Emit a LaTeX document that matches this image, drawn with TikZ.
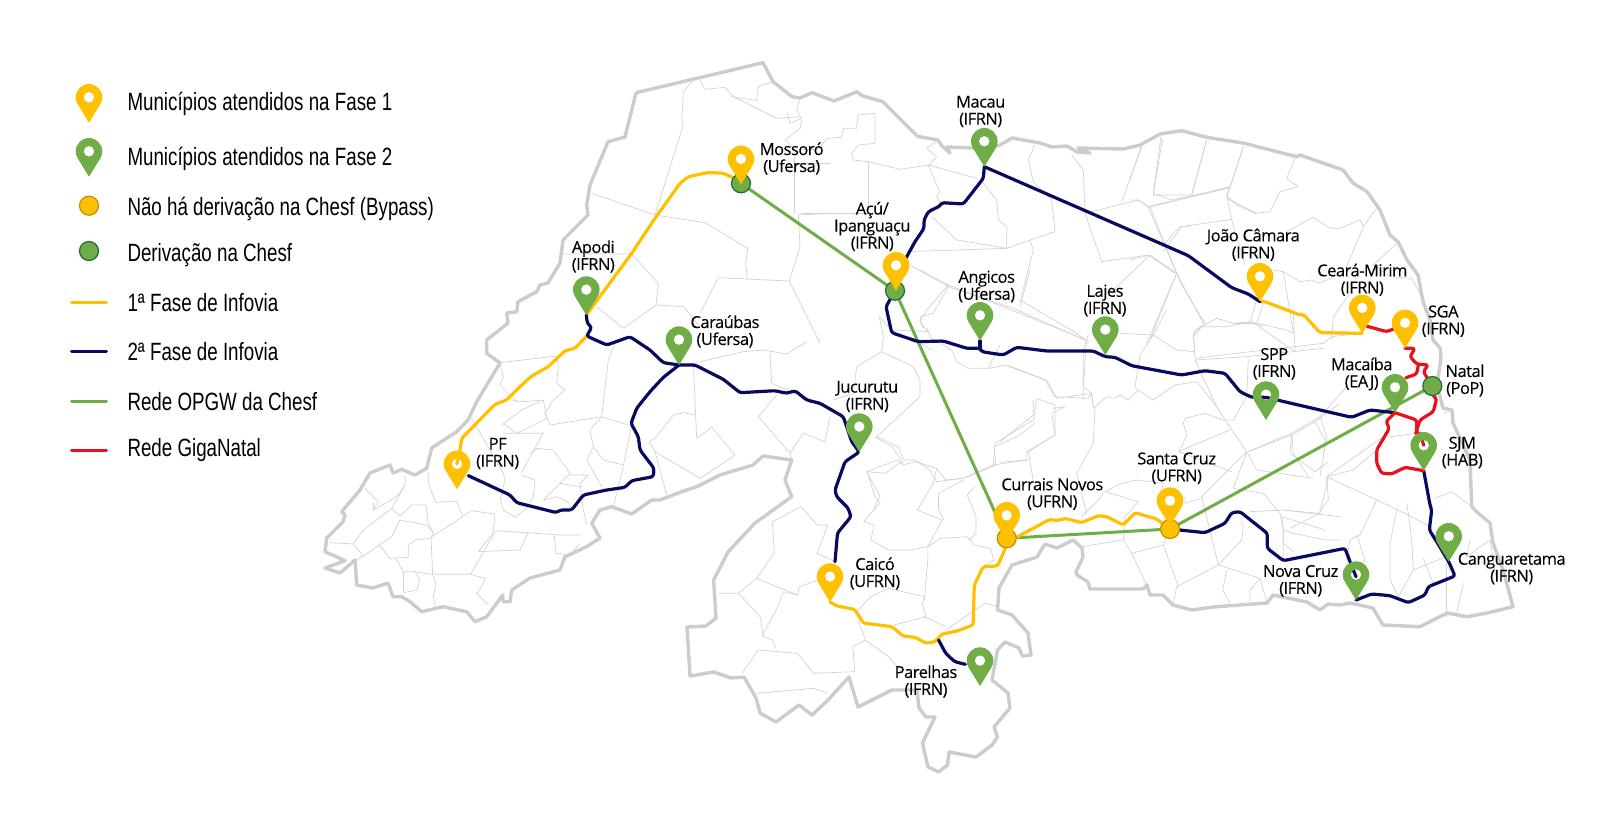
\documentclass[tikz,border=0pt]{standalone}
\usepackage{fontspec}
\setmainfont{Open Sans}
\newfontfamily\legfont[FakeStretch=0.75]{Liberation Sans}
\newfontfamily\labfont[LetterSpace=-3,FakeBold=0.2]{Open Sans}
\definecolor{fy}{HTML}{FFC000}
\definecolor{fg}{HTML}{70AD47}
\definecolor{fn}{HTML}{080A60}
\definecolor{fr}{HTML}{E8101A}
\definecolor{bd}{HTML}{CCCCCC}
\definecolor{mn}{HTML}{D2D2D2}
\definecolor{byb}{HTML}{BF9000}
\definecolor{grb}{HTML}{1E6B3A}
\tikzset{
 mun/.style={draw=mn,line width=.7pt,line join=round},
 outer/.style={draw=bd,line width=3.4pt,line join=round},
 route/.style={line width=3.2pt,line join=round,line cap=round,rounded corners=2.5pt},
 yroute/.style={route,draw=fy},
 nroute/.style={route,draw=fn},
 rroute/.style={route,draw=fr},
 groute/.style={line width=3pt,draw=fg,line cap=round},
 bypass/.style={circle,draw=byb,fill=fy,line width=1.2pt,minimum size=19pt,inner sep=0pt},
 deriv/.style={circle,draw=grb,fill=fg,line width=1.2pt,minimum size=19pt,inner sep=0pt},
 lab/.style={font=\labfont\fontsize{16.5}{17}\selectfont,align=center,inner sep=0pt,text=black,yshift=-1.5pt},
 leg/.style={font=\legfont\fontsize{25}{25}\selectfont,anchor=base west,inner sep=0pt,text=black},
}
\newenvironment{zm}[2]{\begin{scope}[shift={(#1pt,-#2pt)},x=.33333pt,y=-.33333pt]}{\end{scope}}
\newenvironment{zs}[2]{\begin{scope}[shift={(#1pt,-#2pt)},x=.35714pt,y=-.33333pt]}{\end{scope}}
\newcommand\ml[1]{\draw[mun] plot coordinates {#1};}
\newcommand\pin[2]{\begin{scope}[shift={(#1)}]
 \fill[#2,even odd rule] (0,0) -- (-11.3,-18.4) .. controls (-12.6,-20.5) and (-13.3,-22.9) .. (-13.3,-25.4)
 .. controls (-13.3,-32.75) and (-7.35,-38.7) .. (0,-38.7)
 .. controls (7.35,-38.7) and (13.3,-32.75) .. (13.3,-25.4)
 .. controls (13.3,-22.9) and (12.6,-20.5) .. (11.3,-18.4) -- cycle
 (0,-25.4) circle[radius=5.3pt];
 \end{scope}}
\begin{document}
\begin{tikzpicture}[x=1pt,y=-1pt]
\useasboundingbox (0,0) rectangle (1616,835);
% named places
\coordinate (lp1) at (89,122.7);
\coordinate (lp2) at (89,176.7);
\coordinate (mossoro) at (741,184.3);
\coordinate (apodi) at (586.3,315);
\coordinate (caraubas) at (679,365);
\coordinate (pf) at (457,489.3);
\coordinate (pfh) at (457,464);
\coordinate (macau) at (984.3,166.7);
\coordinate (acu) at (896,290.7);
\coordinate (angicos) at (980,340.7);
\coordinate (lajes) at (1105.3,355);
\coordinate (joao) at (1260,301.7);
\coordinate (ceara) at (1362.3,333.3);
\coordinate (cearaE) at (1366,326);
\coordinate (sga) at (1405,348.3);
\coordinate (sgaW) at (1396,328);
\coordinate (macaiba) at (1395,412.7);
\coordinate (spp) at (1266,420);
\coordinate (sjm) at (1423.7,470.7);
\coordinate (sjmh) at (1423.7,445.3);
\coordinate (cangua) at (1448.7,561.7);
\coordinate (novacruz) at (1356,600);
\coordinate (santacruz) at (1170,526);
\coordinate (currais) at (1006.7,540.7);
\coordinate (jucurutu) at (859.3,452);
\coordinate (caico) at (830,602);
\coordinate (parelhas) at (980,686);
\coordinate (cMos) at (741,183.3);
\coordinate (cAcu) at (895,290.7);
\coordinate (cCur) at (1006.7,538.3);
\coordinate (cSan) at (1170,529);
\coordinate (cNat) at (1432.3,386);
\coordinate (j1) at (586.7,336);
% outline
\draw[outer] plot coordinates {(636,92.7)(763,62.7)(773,81.7)(792,96.7)(800,98)(812,92.7)(834,101)(857,91.7)(862,95.7)(883,101.7)(918,136.7)(921,137)(938,140)(942,146)(950,153)(947,147)(972,148)(985,150)(1000,145)(1012,138)(1040,143)(1052,147)(1067,146)(1077,152)(1090,153)(1078,148)(1123,149)(1140,145)(1160,134)(1182,130.7)(1206.7,137.3)(1243,143)(1296.7,156.7)(1300,155)(1343,170)(1353,183)(1367,191.7)(1380,210)(1390,235)(1398,241.7)(1407,260)(1418,275)(1423,301.7)(1430,320)(1433,340)(1440,348)(1441,358)(1437,385)(1443,408)(1452,410)(1453,423)(1470,460)(1471.7,506.7)(1478,513)(1490,523)(1493,543)(1503,570)(1513,606.7)(1487,613)(1467,616.7)(1447,613)(1420,626.7)(1383,625)(1373,608)(1350,603)(1340,605)(1328,604)(1320,610)(1307,602)(1273,595)(1267,603)(1213,607)(1192,610)(1173,605)(1163,595)(1150,595)(1147,585)(1143,589)(1090,589)(1088,582)(1077,575)(1076,572)(1083,557)(1082,548)(1073,540)(1057,548)(1045,544)(1037,557)(1012,565)(999,588)(997.5,610)(1012,615)(1028,633)(1031,655)(1022.5,656)(1019,648)(1005,642)(997.5,650)(992,680)(1008,693)(1010,708)(994,727)(997.5,737)(992,745)(976,757)(949,752)(947.5,765)(938.6,772)(928,767)(922.5,743)(935,717)(926,717)(919,708)(917,690)(892,690)(858,707)(849,677)(828,700)(812,715)(799,705)(776,722)(760,713)(756,698)(744,677)(731,678)(713.6,672)(690,676)(687,627)(706,626)(716,618)(713.6,580)(728,552)(755,523)(791.7,496.7)(785,480)(791.7,460)(763,456)(753,465)(720,475)(696.7,486.7)(681.7,491.7)(660,500)(651.7,500)(631.7,514)(611.7,506.7)(600,510)(591.7,523.3)(600,538)(586.7,546.7)(565,556.7)(560,570)(530,578)(511.7,590)(510,601.7)(503,601.7)(502.7,595)(486.7,616.7)(475,621.7)(466.7,611.7)(443,606.7)(421.7,611.7)(410,601.7)(401.7,596.7)(393,596.7)(388,583)(373,588)(356.7,585)(355,560)(340,573)(325,568)(345,560.7)(325,551.7)(326.7,538)(343,521.7)(345,515)(341.7,511.7)(360,490)(370,473)(390,465)(393,473)(401.7,469.3)(415,475)(426.7,468.3)(431.7,448)(456.7,431.7)(468,420)(476.7,401.7)(500,363)(486.7,353.3)(486.7,340)(508,323)(506.7,313)(516.7,311.7)(518,301.7)(536.7,291.7)(540,285)(548,283)(560,263)(563,240)(588,215)(586.7,205)(590,185)(608,141.7)(625,137)(636,92.7)};
% municipal lines
\begin{zm}{330}{50}
\ml{(1090,90)(1060,125)(1055,210)(1060,225)(975,495)}
\ml{(785,430)(975,495)(1125,518)(1253,595)(1247,640)(1252,685)}
\ml{(1165,683)(1378,693)(1410,590)(1405,495)(1500,490)}
\ml{(1393,490)(1393,340)(1500,340)}
\ml{(1110,90)(1125,118)(1185,112)(1210,140)(1340,205)(1410,200)}
\ml{(1280,150)(1285,110)(1330,95)}
\ml{(1205,140)(1283,152)}
\ml{(1410,145)(1400,180)(1415,205)(1380,220)(1372,190)}
\ml{(1415,210)(1410,235)(1365,270)(1395,300)(1393,340)}
\ml{(700,612)(905,612)(985,700)(978,765)(880,835)(800,770)}
\ml{(978,765)(1060,770)(1110,830)}
\ml{(1165,683)(1110,790)}
\ml{(1378,693)(1470,880)}
\end{zm}
\begin{zm}{330}{340}
\ml{(510,68)(680,48)(685,80)(680,130)(705,150)(670,180)(645,220)(660,255)}
\ml{(510,70)(520,110)(510,135)(565,190)}
\ml{(660,255)(815,230)(905,258)}
\ml{(855,10)(835,60)(815,230)(780,270)(790,320)(770,360)(815,440)}
\ml{(790,320)(820,360)(880,375)}
\ml{(905,255)(875,400)(850,500)}
\ml{(1090,70)(1100,295)(1145,262)(1215,345)(1110,415)(975,335)(1010,465)}
\ml{(975,335)(958,305)(975,295)(1030,225)(1060,218)(1095,225)}
\ml{(1090,70)(1240,35)(1300,30)(1370,42)(1430,5)}
\ml{(1320,40)(1325,130)(1395,160)}
\ml{(1340,165)(1285,230)(1380,340)(1420,280)(1485,305)(1500,230)}
\ml{(1380,340)(1385,360)}
\ml{(425,235)(520,400)(525,420)(510,480)}
\ml{(545,180)(580,185)(640,180)(650,235)(560,280)(520,250)}
\ml{(515,255)(575,210)(640,180)}
\ml{(520,280)(640,280)(605,340)(575,400)}
\ml{(605,340)(620,325)(670,330)(720,400)(690,430)(640,480)}
\ml{(720,405)(775,405)(750,430)(760,510)(770,555)}
\ml{(575,405)(615,420)(610,470)(590,505)(555,532)(520,510)(510,475)}
\ml{(690,430)(750,440)}
\ml{(640,480)(680,470)(720,490)}
\end{zm}
\begin{zm}{320}{440}
\ml{(255,105)(255,135)(215,205)(240,228)(275,195)(318,195)(325,250)(340,280)(333,292)}
\ml{(325,95)(325,130)(347,187)(410,183)(428,230)(333,292)(338,403)(452,403)(525,275)}
\ml{(428,228)(455,212)(525,222)(520,275)}
\ml{(525,272)(720,285)(780,285)}
\ml{(520,278)(475,335)(600,330)(625,275)}
\ml{(703,287)(708,340)(750,345)(780,310)}
\ml{(30,308)(100,312)(130,270)(215,205)}
\ml{(100,312)(130,348)(215,290)(240,240)}
\ml{(130,348)(108,360)}
\ml{(240,240)(320,255)(340,280)}
\ml{(178,315)(210,355)(265,352)(265,315)(285,300)(333,295)}
\ml{(228,355)(250,395)(285,395)(338,403)(348,435)(340,470)(348,510)}
\ml{(250,395)(250,455)}
\ml{(285,395)(300,420)(290,450)(250,458)}
\ml{(452,403)(495,415)(485,440)(470,460)(505,495)}
\ml{(135,145)(175,185)(160,210)(205,185)(235,165)(255,135)}
\ml{(160,210)(160,190)}
\end{zm}
\begin{zm}{820}{270}
\ml{(300,0)(385,45)(320,120)(300,155)(320,180)(335,205)}
\ml{(385,45)(800,210)(790,350)(815,370)(820,410)}
\ml{(178,140)(190,200)(185,245)(110,290)(100,370)(40,390)}
\ml{(185,245)(280,290)(300,330)(300,380)(170,500)(235,530)(250,570)(285,570)(330,600)(350,635)(430,625)(520,585)(620,570)}
\ml{(178,140)(215,180)(330,185)}
\ml{(335,240)(295,215)}
\ml{(335,205)(395,240)(410,275)(445,295)(505,295)(540,225)}
\ml{(505,295)(560,285)(680,330)(710,385)(810,370)}
\ml{(600,110)(630,0)}
\ml{(650,385)(705,405)(705,495)(620,545)(620,570)}
\ml{(650,385)(640,450)(525,520)(520,585)}
\ml{(140,605)(195,610)(245,575)}
\ml{(140,605)(180,680)(160,720)}
\end{zm}
\begin{zm}{1000}{300}
\ml{(20,197)(135,240)(165,290)(265,295)(275,280)(280,325)(320,290)(345,295)(360,285)(385,300)(415,270)(460,300)(525,255)(590,245)(650,320)(695,390)(740,455)(770,510)(940,535)}
\ml{(250,300)(250,150)(265,105)}
\ml{(60,0)(230,100)(265,125)}
\ml{(360,100)(460,105)(420,165)(405,260)(410,270)}
\ml{(500,30)(460,105)(530,150)(585,155)}
\ml{(585,155)(580,110)(605,80)(650,55)(700,70)(750,65)(770,75)(885,155)}
\ml{(585,180)(740,170)(970,145)}
\ml{(585,180)(650,320)}
\ml{(770,0)(750,65)}
\ml{(880,40)(885,150)}
\ml{(745,175)(740,290)(700,360)(670,360)(615,340)(555,355)(550,370)(560,405)(545,440)(535,455)(690,390)}
\ml{(285,320)(280,430)(230,520)(260,640)}
\ml{(100,300)(100,345)(0,425)}
\ml{(160,325)(195,320)(155,340)(165,405)(85,455)(100,545)(90,555)}
\ml{(0,487)(85,480)}
\ml{(535,455)(695,515)}
\ml{(745,455)(875,405)(945,365)(1020,310)}
\ml{(875,405)(870,460)(945,515)(985,485)}
\ml{(945,365)(975,420)(970,470)}
\ml{(740,455)(700,565)(790,580)(840,640)(850,690)(850,730)(880,755)}
\ml{(740,455)(605,590)(655,795)}
\ml{(605,595)(555,610)(555,590)}
\ml{(470,610)(490,550)(410,540)(365,550)(315,575)}
\ml{(315,575)(415,605)(375,650)(370,720)}
\ml{(310,580)(295,600)(245,650)}
\ml{(245,740)(370,720)(395,760)(490,735)(535,860)}
\ml{(395,760)(440,855)}
\ml{(490,735)(510,685)}
\ml{(655,795)(530,860)(520,910)}
\ml{(655,795)(780,835)(800,905)}
\ml{(680,810)(668,870)(690,910)}
\ml{(780,835)(750,870)(750,915)}
\ml{(1020,650)(850,630)}
\ml{(725,665)(730,680)(725,720)(655,795)}
\ml{(750,635)(850,630)(955,640)(985,600)(980,530)}
\ml{(850,690)(880,700)(980,720)(1020,720)}
\end{zm}
\begin{zm}{1130}{120}
\ml{(35,75)(0,180)}
\ml{(90,50)(100,65)(90,70)(70,220)(125,240)(300,203)}
\ml{(230,60)(185,225)}
\ml{(340,80)(300,203)}
\ml{(0,240)(25,240)(55,262)(300,203)}
\ml{(55,262)(155,495)(225,610)(190,640)}
\ml{(495,115)(470,175)(505,200)(450,215)(420,275)(375,280)(320,255)(290,225)(305,300)}
\ml{(290,225)(300,203)}
\ml{(305,298)(155,320)(100,395)}
\ml{(0,420)(60,405)(140,460)(60,660)}
\ml{(345,435)(305,300)}
\ml{(740,265)(700,320)(650,440)}
\ml{(700,320)(690,300)(630,325)(600,325)(550,292)(470,335)}
\ml{(430,450)(460,455)(490,640)}
\ml{(460,455)(510,485)(545,480)(570,490)(620,465)}
\ml{(400,550)(380,610)(470,630)(490,640)}
\ml{(380,610)(310,610)}
\ml{(605,660)(610,590)(660,520)}
\ml{(800,370)(730,435)(780,470)(845,475)(875,530)}
\end{zm}
\begin{zm}{1150}{220}
\ml{(135,415)(130,340)(150,320)(230,320)(305,305)(340,320)}
\ml{(135,415)(300,395)(520,370)(545,350)(635,340)}
\ml{(375,660)(295,695)}
\ml{(375,660)(425,640)(430,700)(475,770)}
\ml{(425,640)(510,590)(590,500)}
\ml{(510,590)(530,650)(510,770)}
\ml{(720,620)(700,650)(530,770)}
\ml{(530,770)(610,750)(680,690)}
\ml{(530,770)(680,840)(765,880)(840,920)}
\ml{(680,840)(630,945)(600,960)(590,1020)}
\ml{(740,870)(720,970)(720,1080)(745,1130)}
\ml{(770,850)(775,880)(785,960)(790,1050)}
\ml{(890,1010)(790,1050)(745,1130)}
\ml{(820,1015)(850,1090)}
\ml{(525,930)(395,890)(400,930)(400,1020)}
\ml{(535,770)(510,880)(420,925)}
\ml{(620,945)(645,1020)(580,1080)}
\ml{(855,835)(905,815)(965,860)}
\ml{(960,960)(950,1010)(1020,960)}
\ml{(890,1030)(890,1190)}
\ml{(940,1090)(920,1180)(950,1190)}
\ml{(1040,1080)(1020,960)}
\ml{(720,650)(800,640)}
\ml{(880,580)(905,570)}
\end{zm}
\begin{zm}{800}{50}
\ml{(205,335)(205,490)(0,490)}
\ml{(160,330)(205,335)(300,358)(385,345)(410,405)(420,425)(410,440)(420,455)}
\ml{(160,330)(155,310)(175,285)(225,280)(225,190)(175,195)(170,235)(130,235)(125,262)(80,265)(55,298)(0,300)}
\ml{(385,350)(410,320)(380,295)(415,270)}
\ml{(395,500)(470,570)(620,595)(620,530)(595,510)(590,450)(570,425)(550,400)}
\ml{(385,345)(530,385)}
\ml{(620,595)(690,570)(765,545)(755,450)(700,395)(685,330)(705,285)}
\ml{(320,605)(620,595)}
\ml{(690,570)(700,600)(660,755)}
\ml{(330,645)(445,710)(400,790)(360,800)(365,830)(385,840)}
\ml{(445,710)(640,775)(855,870)}
\ml{(815,315)(850,360)(855,490)(905,635)(1045,615)(1125,670)}
\ml{(1050,470)(1130,670)(1040,880)}
\ml{(855,490)(1015,450)(1045,470)(1290,410)}
\ml{(1050,615)(940,720)}
\ml{(1130,670)(1210,820)}
\ml{(1025,290)(965,455)}
\ml{(1080,265)(1085,280)(1060,435)(1175,435)(1220,270)}
\ml{(1330,290)(1285,425)(1280,445)(1310,460)(1370,490)}
\ml{(1170,530)(1140,530)(1085,590)}
\end{zm}
\begin{zs}{660}{340}
\ml{(165,760)(220,760)(280,830)(290,890)(315,900)(325,925)}
\ml{(220,760)(270,715)(385,765)(390,740)(470,710)}
\ml{(270,715)(320,640)(315,545)(395,500)(440,555)(470,555)(440,640)(490,665)}
\ml{(385,765)(345,755)(330,800)(285,890)}
\ml{(230,1000)(275,930)(385,940)(430,1000)(545,995)(540,920)(575,900)(640,950)(680,1000)}
\ml{(270,1060)(430,1045)(470,1060)}
\ml{(555,810)(590,770)(640,745)(740,770)}
\ml{(555,840)(575,900)}
\ml{(740,770)(735,795)(745,830)(655,855)}
\ml{(740,830)(800,860)}
\ml{(800,870)(910,790)(945,800)}
\ml{(580,395)(600,465)(615,490)(570,545)(600,555)(590,600)(640,630)(700,630)(750,620)(785,595)(860,590)(880,615)(925,625)(935,660)(905,680)}
\ml{(580,395)(665,360)(680,375)(715,365)(775,385)(765,430)(720,510)(790,540)(750,620)(750,660)(740,780)}
\ml{(775,385)(800,420)(850,415)(940,375)}
\ml{(850,420)(780,460)(780,510)(795,540)}
\ml{(880,440)(860,465)(885,530)(885,580)(865,600)}
\ml{(940,375)(935,320)(1000,290)(1050,250)}
\ml{(600,290)(650,320)(680,370)}
\end{zs}
% OPGW
\draw[groute] (cMos) -- (cAcu) -- (cCur) -- (cSan) -- (cNat);
% phase 1
\draw[yroute] (cMos) -- (734,178) -- (722.7,173) -- (706.7,172.7) -- (688.3,176.7) -- (680,183.3) -- (655,218.3) -- (631.7,253.3) -- (apodi);
\draw[yroute] (j1) -- (575,348.3) -- (565,350.7) -- (548.3,366.7) -- (531.7,376) -- (521.7,385) -- (506.7,400) -- (495,404.3) -- (461.7,438.3) -- (460,450) -- (pfh);
\begin{zm}{1150}{220}
\draw[yroute] (joao) -- (345,245) -- (450,285) -- (460,283) -- (510,338) -- (ceara);
\end{zm}
\begin{zs}{660}{340}
\draw[yroute] (caico) -- (495,798) -- (545,808) -- (570,850) -- (590,852) -- (650,860) -- (680,888) -- (715,892) -- (745,910) -- (770,905) -- (790,882) -- (835,872) -- (877,855) -- (880,735) -- (905,680) -- (945,678) -- (965,630) -- (cCur);
\end{zs}
\begin{zm}{1000}{300}
\draw[yroute] (cCur) -- (50,712) -- (90,690) -- (150,658) -- (170,662) -- (195,655) -- (245,668) -- (295,647) -- (320,650) -- (370,675) -- (405,638) -- (470,657) -- (cSan);
\end{zm}
% phase 2
\draw[nroute] (apodi) -- (587.3,323.3) -- (591.7,327.3) -- (j1) -- (606.7,345) -- (630,336.7) -- (650,350) -- (663.3,362.7) -- (caraubas) -- (695,365) -- (723.3,379.3) -- (740,392.7) -- (775,390.7) -- (786.7,393.3) -- (795,390.7) -- (806.7,400) -- (820,403.3) -- (843.3,416.7) -- (851.7,441.7) -- (jucurutu) -- (845,461.7) -- (835,490) -- (836.7,496.7) -- (848,508) -- (851,516.7) -- (837.5,533) -- (835,561.7);
\begin{zm}{330}{340}
\draw[nroute] (caraubas) -- (1000,112) -- (960,155) -- (920,205) -- (903,250) -- (925,290) -- (930,330) -- (972,385) -- (970,410) -- (905,422) -- (885,442) -- (830,450) -- (760,465) -- (725,510) -- (690,510) -- (680,518) -- (560,488) -- (540,465) -- (415,407);
\end{zm}
\begin{zm}{800}{50}
\draw[nroute] (macau) -- (550,385) -- (490,462) -- (425,458) -- (420,468) -- (385,485) -- (372,510) -- (372,535) -- (345,575) -- (312,635);
\draw[nroute] (macau) -- (1165,617) -- (1295,713) -- (1345,732) -- (joao);
\end{zm}
\draw[nroute] (cAcu) -- (886,306.7) -- (891.7,332.7) -- (918.3,341.7) -- (943.3,341) -- (966.7,348.3) -- (980,348.3) -- (981.7,351.7) -- (1003.3,355) -- (1016.7,347.3) -- (1046.7,351) -- (1093.3,351) -- (1105.3,356.7) -- (1115,357.3) -- (1131.7,365.7) -- (1181.7,375) -- (1205,370.7) -- (1225,373.3) -- (1240,391.7) -- (1251.7,397.3) -- (1266,397.3) -- (1280,400.7) -- (1320,410) -- (1351.7,417.3) -- (1370,410) -- (macaiba);
\draw[nroute] (angicos) -- (980,348.3);
\begin{zm}{1150}{220}
\draw[nroute] (sjm) -- (840,855) -- (845,870) -- (838,930) -- (860,965) -- (cangua) -- (915,1068) -- (835,1100) -- (825,1125) -- (775,1148) -- (720,1127) -- (665,1122) -- (novacruz);
\draw[nroute] (618,1070) -- (600,1025) -- (585,985) -- (400,1022) -- (352,985) -- (352,940) -- (270,875) -- (245,878) -- (225,910) -- (165,938) -- (cSan);
\end{zm}
\begin{zs}{660}{340}
\draw[nroute] (780,900) -- (800,940) -- (825,965) -- (855,973);
\end{zs}
% GigaNatal
\begin{zm}{1150}{220}
\draw[rroute] (cearaE) -- (710,335) -- (sgaW);
\draw[rroute] (sga) -- (795,385) -- (780,410) -- (800,432) -- (835,435) -- (820,455) -- (cNat);
\draw[rroute] (768,473) -- (800,462) -- (805,435);
\draw[rroute] (cNat) -- (850,530) -- (860,535) -- (850,575) -- (810,600) -- (797,640);
\draw[rroute] (800,635) -- (812,645) -- (sjmh);
\draw[rroute] (macaiba) -- (800,600) -- (800,635);
\draw[rroute] (macaiba) -- (708,605) -- (718,625) -- (680,690) -- (680,730) -- (695,760) -- (725,762) -- (765,742) -- (sjm);
\end{zm}
% junction circles
\node[deriv] (nMos) at (cMos) {};
\node[deriv] (nAcu) at (cAcu) {};
\node[bypass] (nCur) at (cCur) {};
\node[bypass] (nSan) at (cSan) {};
\node[deriv] (nNat) at (cNat) {};
% pins
\pin{mossoro}{fy}\pin{acu}{fy}\pin{joao}{fy}\pin{ceara}{fy}\pin{sga}{fy}\pin{pf}{fy}\pin{currais}{fy}\pin{santacruz}{fy}\pin{caico}{fy}
\pin{apodi}{fg}\pin{caraubas}{fg}\pin{macau}{fg}\pin{angicos}{fg}\pin{lajes}{fg}\pin{macaiba}{fg}\pin{spp}{fg}\pin{sjm}{fg}\pin{cangua}{fg}\pin{novacruz}{fg}\pin{jucurutu}{fg}\pin{parelhas}{fg}
% labels
\node[lab] (tMos) at (791.7,157) {Mossoró\\(Ufersa)};
\node[lab] (tApo) at (593.3,255) {Apodi\\(IFRN)};
\node[lab] (tCar) at (725,330) {Caraúbas\\(Ufersa)};
\node[lab] (tPF) at (497.7,452) {PF\\(IFRN)};
\node[lab] (tMac) at (980.7,110) {Macau\\(IFRN)};
\node[lab] (tAcu) at (872.3,225) {Açú/\\Ipanguaçu\\(IFRN)};
\node[lab] (tAng) at (986.7,285) {Angicos\\(Ufersa)};
\node[lab] (tLaj) at (1105,299) {Lajes\\(IFRN)};
\node[lab] (tJoa) at (1253.3,243.3) {João Câmara\\(IFRN)};
\node[lab] (tCea) at (1362.3,278.3) {Ceará-Mirim\\(IFRN)};
\node[lab] (tSGA) at (1443.3,319.7) {SGA\\(IFRN)};
\node[lab] (tNat) at (1465,379) {Natal\\(PoP)};
\node[lab] (tMcb) at (1361.7,372.5) {Macaíba\\(EAJ)};
\node[lab] (tSPP) at (1274.3,362.3) {SPP\\(IFRN)};
\node[lab] (tSJM) at (1462.3,451) {SJM\\(HAB)};
\node[lab] (tSan) at (1176.7,466.7) {Santa Cruz\\(UFRN)};
\node[lab] (tCur) at (1052.3,492.5) {Currais Novos\\(UFRN)};
\node[lab] (tNov) at (1300.7,579.3) {Nova Cruz\\(IFRN)};
\node[lab] (tCan) at (1511.7,567) {Canguaretama\\(IFRN)};
\node[lab] (tJuc) at (867.3,395) {Jucurutu\\(IFRN)};
\node[lab] (tCai) at (875,572) {Caicó\\(UFRN)};
\node[lab] (tPar) at (926,680) {Parelhas\\(IFRN)};
% legend
\pin{lp1}{fy}\pin{lp2}{fg}
\node[bypass] (l3) at (89,205.7) {};
\node[deriv] (l4) at (89,251) {};
\coordinate (la5) at (71.5,302.7); \coordinate (lb5) at (106.5,302.7);
\coordinate (la6) at (71.5,351.7); \coordinate (lb6) at (106.5,351.7);
\coordinate (la7) at (71.5,401); \coordinate (lb7) at (106.5,401);
\coordinate (la8) at (71.5,450.7); \coordinate (lb8) at (106.5,450.7);
\draw[groute,draw=fy] (la5) -- (lb5);
\draw[groute,draw=fn] (la6) -- (lb6);
\draw[groute] (la7) -- (lb7);
\draw[groute,draw=fr] (la8) -- (lb8);
\node[leg] (t1) at (127.3,110) {Municípios atendidos na Fase 1};
\node[leg] (t2) at (127.3,165) {Municípios atendidos na Fase 2};
\node[leg] (t3) at (127.3,215) {Não há derivação na Chesf (Bypass)};
\node[leg] (t4) at (127.3,261) {Derivação na Chesf};
\node[leg] (t5) at (127.3,311.7) {1ª Fase de Infovia};
\node[leg] (t6) at (127.3,360.7) {2ª Fase de Infovia};
\node[leg] (t7) at (127.3,410.7) {Rede OPGW da Chesf};
\node[leg] (t8) at (127.3,456.7) {Rede GigaNatal};
\end{tikzpicture}
\end{document}
